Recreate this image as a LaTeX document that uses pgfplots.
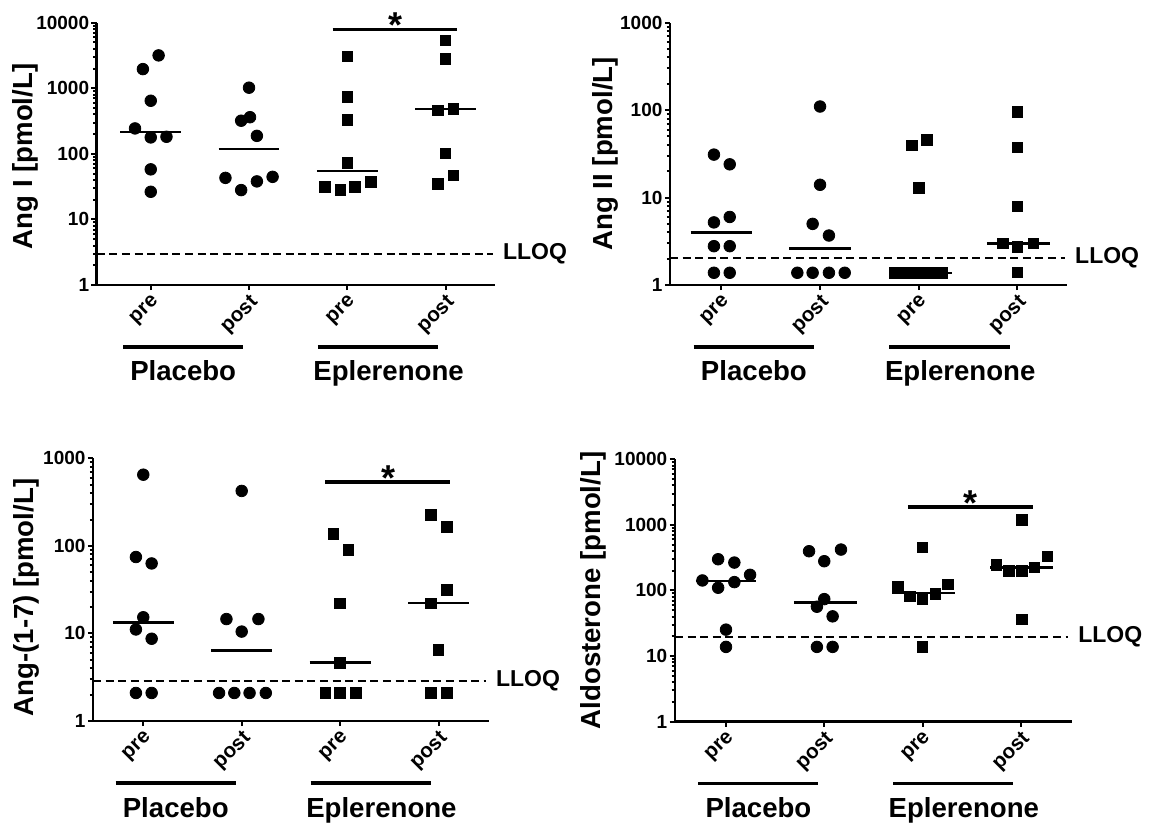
\documentclass[border=0pt]{standalone}
\usepackage{fontspec}
\setmainfont{Liberation Sans}
\usepackage{pgfplots}
\pgfplotsset{compat=1.18}

\newcommand{\labfont}{\fontsize{13.8}{16}\selectfont\bfseries}
\pgfplotsset{
  every axis/.append style={
    scale only axis, clip=false,
    axis x line=bottom, axis y line=left,
    axis line style={line width=1.3pt,-},
    tick align=outside,
    xtick={1,2,3,4}, xticklabels={pre,post,pre,post},
    xticklabel style={rotate=45, anchor=north east, font=\fontsize{10.3}{11}\selectfont\bfseries, inner sep=1pt},
    yticklabel style={font=\fontsize{9.5}{10}\selectfont\bfseries, inner sep=1pt},
    major tick length=2.6pt, minor tick length=1.6pt,
    every tick/.style={black, line width=1pt},
    ylabel style={font=\labfont, anchor=center},
  },
  dots/.style={only marks, mark=*, mark size=2.9pt, black},
  boxes/.style={only marks, mark=square*, mark size=2.65pt, black},
  med/.style={no marks, black, line width=1.25pt},
  lloqline/.style={no marks, black, line width=1pt, dash pattern=on 4pt off 2.3pt},
}
\newcommand{\groups}{%
  \draw[line width=1.65pt] ([yshift=-31pt]axis cs:0.72,1) -- ([yshift=-31pt]axis cs:1.94,1);
  \draw[line width=1.65pt] ([yshift=-31pt]axis cs:2.70,1) -- ([yshift=-31pt]axis cs:3.92,1);
  \node[anchor=base, font=\labfont] at ([yshift=-48pt]axis cs:1.33,1) {Placebo};
  \node[anchor=base, font=\labfont] at ([yshift=-48pt]axis cs:3.42,1) {Eplerenone};
}
\newcommand{\sig}[1]{%
  \draw[line width=1.65pt] (axis cs:2.85,#1) -- (axis cs:4.12,#1);
  \node[anchor=base, inner sep=0pt, font=\fontsize{18}{18}\selectfont\bfseries, yshift=-4.2pt] at (axis cs:3.49,#1) {*};
}
\newcommand{\lloq}[2]{%
  \addplot[lloqline] coordinates {(#2,#1) (4.48,#1)};
  \node[anchor=west, inner sep=0pt, xshift=4pt, font=\fontsize{11.5}{12}\selectfont\bfseries] at (axis cs:4.5,#1) {LLOQ};
}

\begin{document}
\begin{tikzpicture}
\useasboundingbox (0,0) rectangle (577.5pt,412pt);

% Ang I
\begin{axis}[ymode=log, anchor=south west, at={(48.35pt,269.5pt)}, width=199pt, height=131.15pt,
  xmin=0.45, xmax=4.5, ymin=1, ymax=10000,
  ytick={1,10,100,1000,10000}, yticklabels={1,10,100,1000,10000},
  minor ytick={2,3,4,5,6,7,8,9,20,30,40,50,60,70,80,90,200,300,400,500,600,700,800,900,2000,3000,4000,5000,6000,7000,8000,9000},
  ylabel={Ang I [pmol/L]}, ylabel style={at={(axis description cs:-0.178,0.49)}}]
\addplot[dots] coordinates {(1.08,3170) (0.92,1960) (1.00,645) (0.84,244) (1.00,178) (1.16,182) (1.00,58) (1.00,26.4)};
\addplot[med] coordinates {(0.69,215) (1.31,215)};
\addplot[dots] coordinates {(2.00,1020) (1.92,320) (2.01,362) (2.08,188) (1.76,43) (1.92,28) (2.08,38) (2.24,44.6)};
\addplot[med] coordinates {(1.69,118) (2.31,118)};
\addplot[boxes] coordinates {(3.00,3080) (3.00,735) (3.00,326) (3.00,72) (2.77,31.6) (2.93,28) (3.08,31.4) (3.24,37)};
\addplot[med] coordinates {(2.69,55) (3.31,55)};
\addplot[boxes] coordinates {(4.00,5370) (4.00,2800) (3.92,458) (4.08,480) (4.00,101) (3.92,35) (4.08,47)};
\addplot[med] coordinates {(3.69,480) (4.31,480)};
\lloq{3}{0.45}
\sig{7900}
\groups
\end{axis}

% Ang II
\begin{axis}[ymode=log, anchor=south west, at={(335pt,269.5pt)}, width=198.4pt, height=131.15pt,
  xmin=0.48, xmax=4.5, ymin=1, ymax=1000,
  ytick={1,10,100,1000}, yticklabels={1,10,100,1000},
  minor ytick={2,3,4,5,6,7,8,9,20,30,40,50,60,70,80,90,200,300,400,500,600,700,800,900},
  ylabel={Ang II [pmol/L]}, ylabel style={at={(axis description cs:-0.163,0.5)}}]
\addplot[dots] coordinates {(0.925,31) (1.085,24) (0.925,5.2) (1.085,6.0) (0.925,2.78) (1.085,2.78) (0.925,1.38) (1.085,1.38)};
\addplot[med] coordinates {(0.69,3.98) (1.31,3.98)};
\addplot[dots] coordinates {(2.00,110) (2.00,14) (1.925,5.0) (2.09,3.68) (1.77,1.38) (1.925,1.38) (2.09,1.38) (2.25,1.38)};
\addplot[med] coordinates {(1.69,2.6) (2.31,2.6)};
\addplot[boxes] coordinates {(2.93,39.4) (3.085,45.7) (3.00,13) (2.76,1.38) (2.88,1.38) (3.00,1.38) (3.12,1.38) (3.24,1.38)};
\addplot[med] coordinates {(2.71,1.38) (3.34,1.38)};
\addplot[boxes] coordinates {(4.00,96) (4.00,37.4) (4.00,7.9) (3.85,3.0) (4.00,2.73) (4.16,3.0) (4.00,1.39)};
\addplot[med] coordinates {(3.69,3.0) (4.33,3.0)};
\lloq{2.05}{0.48}
\groups
\end{axis}

% Ang-(1-7)
\begin{axis}[ymode=log, anchor=south west, at={(46.55pt,51.5pt)}, width=197.8pt, height=131.35pt,
  xmin=0.49, xmax=4.51, ymin=1, ymax=1000,
  ytick={1,10,100,1000}, yticklabels={1,10,100,1000},
  minor ytick={2,3,4,5,6,7,8,9,20,30,40,50,60,70,80,90,200,300,400,500,600,700,800,900},
  ylabel={Ang-(1-7) [pmol/L]}, ylabel style={at={(axis description cs:-0.168,0.47)}}]
\addplot[dots] coordinates {(1.00,650) (0.925,74.6) (1.085,63) (1.00,15.3) (0.925,11.1) (1.085,8.7) (0.925,2.09) (1.085,2.09)};
\addplot[med] coordinates {(0.69,13.4) (1.31,13.4)};
\addplot[dots] coordinates {(2.00,424) (1.845,14.6) (2.17,14.6) (2.00,10.5) (1.77,2.09) (1.925,2.09) (2.08,2.09) (2.245,2.09)};
\addplot[med] coordinates {(1.69,6.35) (2.31,6.35)};
\addplot[boxes] coordinates {(2.93,136) (3.085,90.5) (3.00,22) (3.00,4.63) (2.85,2.09) (3.00,2.09) (3.16,2.09)};
\addplot[med] coordinates {(2.69,4.63) (3.31,4.63)};
\addplot[boxes] coordinates {(3.92,227) (4.085,166) (4.085,31.3) (3.92,22) (4.00,6.47) (3.92,2.09) (4.085,2.09)};
\addplot[med] coordinates {(3.69,22.3) (4.31,22.3)};
\lloq{2.9}{0.49}
\sig{535}
\groups
\end{axis}

% Aldosterone
\begin{axis}[ymode=log, anchor=south west, at={(337.45pt,51.15pt)}, width=198.5pt, height=131.25pt,
  xmin=0.48, xmax=4.52, ymin=1, ymax=10000,
  ytick={1,10,100,1000,10000}, yticklabels={1,10,100,1000,10000},
  minor ytick={2,3,4,5,6,7,8,9,20,30,40,50,60,70,80,90,200,300,400,500,600,700,800,900,2000,3000,4000,5000,6000,7000,8000,9000},
  ylabel={Aldosterone [pmol/L]}, ylabel style={at={(axis description cs:-0.205,0.5)}}]
\addplot[dots] coordinates {(0.92,299) (1.085,266) (0.76,142) (1.085,134) (1.245,173) (0.92,110) (1.00,25.3) (1.00,13.8)};
\addplot[med] coordinates {(0.69,140) (1.31,140)};
\addplot[dots] coordinates {(1.845,396) (2.17,420) (2.00,279) (2.00,73.8) (1.925,56.5) (2.085,40.3) (1.925,13.8) (2.085,13.8)};
\addplot[med] coordinates {(1.69,65.8) (2.33,65.8)};
\addplot[boxes] coordinates {(3.00,450) (2.75,116) (3.26,123) (2.87,81) (3.00,74.7) (3.13,89) (3.00,13.8)};
\addplot[med] coordinates {(2.69,91) (3.33,91)};
\addplot[boxes] coordinates {(4.01,1197) (4.27,332) (3.75,243) (3.88,199) (4.01,199) (4.14,224) (4.01,36.3)};
\addplot[med] coordinates {(3.69,224) (4.33,224)};
\lloq{19.8}{0.48}
\sig{1860}
\groups
\end{axis}
\end{tikzpicture}
\end{document}
